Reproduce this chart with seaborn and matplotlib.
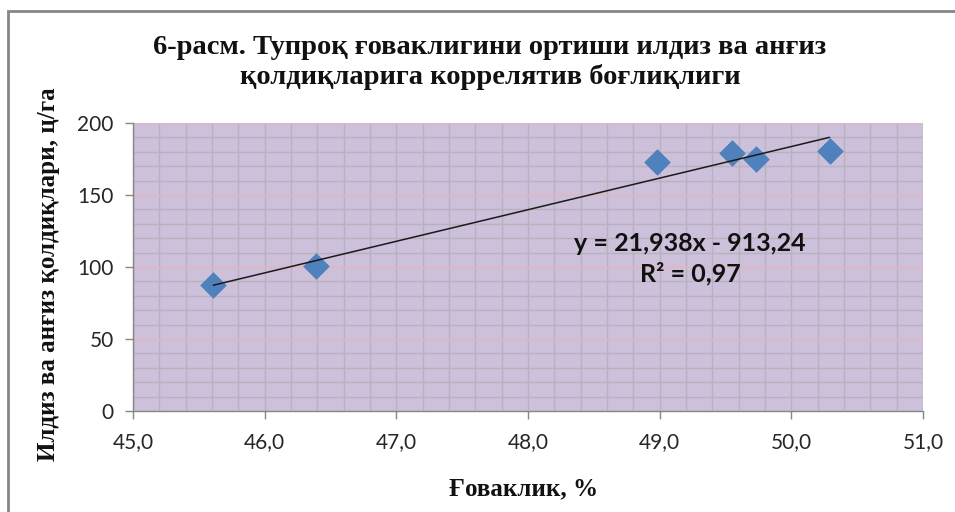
import matplotlib
matplotlib.use("Agg")
import matplotlib.pyplot as plt
from matplotlib.patches import Rectangle
from matplotlib.ticker import MultipleLocator, FuncFormatter
import numpy as np
import pandas as pd
import seaborn as sns

# Soil porosity (%) vs. root and stubble residues (c/ha)
porosity = [45.61, 46.39, 48.98, 49.55, 49.73, 50.29]
residues = [87.5, 100.7, 172.9, 179.2, 175.0, 180.6]

# Linear trend stated on the chart
slope = 21.938
intercept = -913.24
r_squared = 0.97

title_text = "6-расм. Тупроқ ғоваклигини ортиши илдиз ва анғиз\nқолдиқларига коррелятив боғлиқлиги"
x_label = "Ғоваклик, %"
y_label = "Илдиз ва анғиз қолдиқлари, ц/га"

df = pd.DataFrame({"porosity": porosity, "residues": residues})

sns.set_theme(style="white")
plt.rcParams["font.family"] = ["Lato", "DejaVu Sans"]

fig = plt.figure(figsize=(9.55, 5.12), dpi=100)
ax = fig.add_axes([133 / 955, 1 - 411 / 512, (923 - 133) / 955, (411 - 123) / 512])

ax.set_facecolor("#CCC0DA")
ax.set_xlim(45, 51)
ax.set_ylim(0, 200)

# grid: gray minor lines, light pink major horizontal lines
ax.xaxis.set_major_locator(MultipleLocator(1))
ax.xaxis.set_minor_locator(MultipleLocator(0.2))
ax.yaxis.set_major_locator(MultipleLocator(50))
ax.yaxis.set_minor_locator(MultipleLocator(10))
ax.grid(which="minor", axis="both", color="#B8B2BE", linewidth=1.0, zorder=0)
ax.grid(which="major", axis="x", color="#B8B2BE", linewidth=1.0, zorder=0)
ax.grid(which="major", axis="y", color="#E8B4BC", linewidth=1.0, zorder=0)
ax.set_axisbelow(True)

sns.scatterplot(data=df, x="porosity", y="residues", ax=ax, marker="D",
                s=170, color="#4F81BD", edgecolor="#4F81BD", linewidth=0.5,
                zorder=3, legend=False)

xs = np.array([min(porosity), max(porosity)])
ax.plot(xs, slope * xs + intercept, color="#1A1A1A", linewidth=1.1, zorder=4)

ax.text(0.705, 0.58, f"y = {slope:.3f}x - {abs(intercept):.2f}".replace(".", ","),
        transform=ax.transAxes, ha="center", va="center",
        fontsize=18, fontweight="bold", color="#111111", family="Lato")
ax.text(0.705, 0.478, f"R² = {r_squared:.2f}".replace(".", ","),
        transform=ax.transAxes, ha="center", va="center",
        fontsize=18, fontweight="bold", color="#111111", family="Lato")

for side in ("top", "right"):
    ax.spines[side].set_visible(False)
for side in ("left", "bottom"):
    ax.spines[side].set_color("#868686")
    ax.spines[side].set_linewidth(1.0)

ax.tick_params(which="major", axis="both", direction="out", length=6,
               width=1, color="#868686", labelsize=15, labelcolor="#262626",
               left=True, bottom=True)
ax.tick_params(which="minor", length=0)
ax.xaxis.set_major_formatter(FuncFormatter(lambda v, p: f"{v:.1f}".replace(".", ",")))
ax.yaxis.set_major_formatter(FuncFormatter(lambda v, p: f"{v:.0f}"))
ax.tick_params(axis="x", pad=9)
ax.tick_params(axis="y", pad=8)

ax.set_xlabel(x_label, family="Liberation Serif", fontweight="bold",
              fontsize=18, color="#111111")
ax.set_ylabel(y_label, family="Liberation Serif", fontweight="bold",
              fontsize=18, color="#111111")
ax.xaxis.set_label_coords(0.494, -0.23)
ax.yaxis.set_label_coords(-0.093, 0.475)

fig.text(490 / 955, 1 - 63 / 512, title_text, ha="center", va="center",
         family="Liberation Serif", fontweight="bold", fontsize=20.5,
         color="#111111", linespacing=1.2)

# chart frame
fig.patches.append(Rectangle((8 / 955, -0.05), 1.1, 1 - 11 / 512 + 0.05,
                             transform=fig.transFigure, fill=False,
                             edgecolor="#868686", linewidth=2.0))

fig.savefig("out.png", dpi=100, facecolor="white")
